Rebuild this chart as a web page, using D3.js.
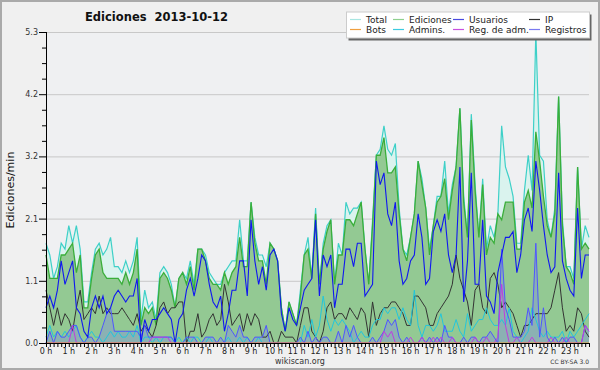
<!DOCTYPE html>
<html><head><meta charset="utf-8">
<script src="https://cdn.jsdelivr.net/npm/d3@7/dist/d3.min.js"></script>
<style>html,body{margin:0;padding:0;background:#f0f0f0;}svg{display:block;}</style>
</head><body><svg id="c" width="600" height="370"></svg>
<script>
// ---- data (edits per minute, 10-minute steps, 0h00 .. 23h50) ----
const hourLabels = d3.range(24).map(h => h + " h");
const yTickValues = [0, 1.06, 2.12, 3.18, 4.24, 5.3];
const yTickLabels = ["0.0", "1.1", "2.1", "3.2", "4.2", "5.3"];
const legendNames = ["Total", "Ediciones", "Usuarios", "IP", "Bots", "Admins.", "Reg. de adm.", "Registros"];

const total = [
1.7,1.5,1.1,1.3,1.7,1.6, 2.0,1.7,2.0,1.6,0.7,0.7, 1.2,1.6,1.7,1.5,1.6,1.8, 1.3,1.3,1.2,1.4,1.2,1.4,
1.8,0.4,0.9,0.6,0.7,0.4, 1.2,1.3,1.2,1.0,0.6,1.1, 1.2,1.1,1.4,1.0,1.6,1.6, 1.5,1.2,1.1,1.0,1.0,1.2,
1.3,1.4,1.4,2.1,1.4,1.4, 2.4,1.8,1.5,1.5,1.3,1.7, 1.6,1.4,0.6,0.2,0.7,0.5, 0.3,0.9,1.5,1.8,1.1,2.3,
1.0,1.7,2.0,2.1,1.0,1.7, 1.5,2.4,2.2,2.3,2.3,2.4, 1.6,1.0,2.1,3.2,3.3,3.7, 3.3,3.2,3.4,2.3,1.6,1.5,
1.8,2.2,3.1,2.8,2.3,1.6, 2.0,2.5,2.5,3.1,2.2,2.7, 3.0,4.0,2.5,1.8,3.9,2.7, 1.8,2.8,1.6,2.0,1.8,2.2,
3.7,3.0,2.8,2.5,1.7,1.7, 2.6,3.2,2.6,5.3,3.2,3.1, 2.1,1.8,2.3,4.2,2.1,1.3, 1.3,1.1,3.0,1.6,2.0,1.8];
const ediciones = [
1.5,1.1,1.1,1.1,1.5,1.5, 1.6,1.7,1.2,1.5,0.6,0.6, 1.1,1.5,1.6,1.2,1.1,1.1, 1.1,1.1,1.0,1.2,1.0,1.2,
1.6,0.3,0.6,0.5,0.6,0.3, 1.1,1.2,1.1,0.9,0.6,1.1, 1.2,1.0,1.3,0.9,1.6,1.6, 1.4,1.1,1.0,1.0,0.9,1.2,
1.0,1.2,1.3,1.8,1.3,1.3, 2.4,1.7,1.4,1.4,1.0,1.7, 1.6,1.4,0.6,0.2,0.7,0.5, 0.3,0.8,1.5,1.6,1.1,2.2,
1.0,1.6,1.9,2.1,1.0,1.5, 1.5,2.1,2.1,2.0,2.2,2.4, 1.6,1.0,2.0,3.2,3.2,3.5, 2.9,2.9,3.0,2.2,1.6,1.4,
1.8,2.2,3.1,2.7,2.3,1.5, 2.0,2.4,2.5,2.8,2.1,2.6, 3.0,4.0,2.4,1.8,3.8,2.6, 1.8,2.7,1.5,1.8,1.7,2.2,
2.1,2.4,2.4,2.4,1.6,1.6, 2.4,2.6,2.3,3.6,3.1,2.5, 2.0,1.8,2.2,4.2,2.0,1.3, 1.2,1.0,3.0,1.6,1.7,1.6];
const usuarios = [
0.6,0.8,0.6,0.9,1.4,1.0, 1.2,1.4,0.6,0.5,0.2,0.1, 0.6,0.8,0.6,0.8,0.5,0.6, 0.8,0.9,0.8,0.7,0.8,0.8,
1.1,0.0,0.4,0.2,0.4,0.4, 0.5,0.6,0.5,0.4,0.0,0.4, 0.5,0.9,1.1,0.8,1.1,1.5, 1.4,1.0,0.7,0.6,0.8,0.2,
0.5,0.9,0.9,1.4,1.4,0.8, 2.1,1.4,1.0,1.3,0.9,1.5, 1.6,1.4,0.5,0.2,0.6,0.4, 0.3,0.6,0.9,1.0,1.1,2.1,
0.8,1.5,1.3,1.5,0.6,1.0, 1.0,1.6,1.6,1.3,1.7,1.7, 0.8,0.9,1.0,3.1,2.7,2.9, 2.2,2.0,2.4,1.4,1.0,1.1,
1.4,1.5,2.2,1.8,1.0,1.1, 1.9,2.1,1.9,2.2,1.5,1.2, 1.5,3.0,0.7,1.4,2.9,1.0, 1.0,2.1,0.8,0.7,0.5,1.2,
1.5,1.8,1.8,1.9,1.2,1.5, 2.1,2.3,1.9,3.1,2.6,2.0, 1.5,1.2,1.3,2.9,1.4,1.1, 0.9,0.8,2.3,1.1,1.5,1.5];
const ip = [
0.9,0.6,0.3,0.6,0.3,0.5, 0.4,0.2,0.6,0.9,0.4,0.5, 0.6,0.5,0.8,0.5,0.6,0.5, 0.5,0.5,0.6,0.5,0.4,0.3,
0.5,0.2,0.3,0.2,0.1,0.3, 0.6,0.7,0.5,0.6,0.6,0.7, 0.7,0.0,0.2,0.2,0.5,0.1, 0.2,0.4,0.5,0.3,0.4,1.0,
0.7,0.3,0.4,0.5,0.2,0.5, 0.3,0.5,0.4,0.1,0.1,0.2, 0.0,0.0,0.2,0.1,0.1,0.1, 0.0,0.3,0.6,0.6,0.2,0.1,
0.0,0.2,0.6,0.7,0.4,0.5, 0.5,0.4,0.6,0.5,0.4,0.6, 0.5,0.1,0.7,0.3,0.5,0.6, 0.6,0.7,0.7,0.6,0.5,0.3,
0.3,0.8,0.8,0.7,0.6,0.3, 0.3,0.5,0.6,0.7,0.8,1.0, 1.5,1.1,0.9,0.7,0.3,0.9, 1.0,0.6,0.5,1.1,1.2,1.0,
0.6,0.7,0.6,0.5,0.3,0.1, 0.3,0.3,0.4,0.5,0.5,0.5, 0.5,0.6,0.9,1.2,0.6,0.2, 0.3,0.2,0.6,0.5,0.2,0.1];
const bots = [
0,0,0,0,0,0, 0,0,0,0,0,0, 0,0,0,0,0,0, 0,0,0,0,0,0,
0,0,0,0,0,0, 0,0,0,0,0,0, 0,0,0,0,0,0, 0,0,0,0,0,0,
0,0,0,0,0,0, 0,0,0,0,0,0, 0,0,0,0,0,0, 0,0,0,0,0,0,
0,0,0,0,0,0, 0,0,0,0,0,0, 0,0,0,0,0,0, 0,0,0,0,0,0,
0,0,0,0,0,0, 0,0,0,0,0,0, 0,0,0,0,0,0, 0,0,0,0,0,0,
0,0,0,0,0,0, 0,0,0,0,0,0, 0,0,0,0,0,0, 0,0,0,0,0,0];
const admins = [
0.1,0.3,0.1,0.2,0.1,0.2, 0.1,0.2,0.3,0.1,0.0,0.1, 0.2,0.1,0.1,0.0,0.1,0.2, 0.1,0.2,0.1,0.1,0.2,0.1,
0.3,0.0,0.1,0.1,0.0,0.1, 0.0,0.1,0.1,0.1,0.0,0.1, 0.0,0.1,0.0,0.1,0.1,0.0, 0.0,0.1,0.0,0.0,0.0,0.0,
0.1,0.0,0.0,0.1,0.0,0.1, 0.0,0.0,0.1,0.0,0.0,0.0, 0.0,0.0,0.0,0.0,0.0,0.0, 0.0,0.0,0.3,0.1,0.4,0.1,
0.3,0.8,0.4,0.2,0.4,0.3, 0.4,0.3,0.2,0.0,0.1,0.2, 0.1,0.1,0.3,0.4,0.4,0.6, 0.5,0.6,0.6,0.4,0.6,0.4,
0.3,0.9,0.3,0.1,0.3,0.3, 0.2,0.3,0.5,0.2,0.2,0.2, 0.4,0.2,0.1,0.5,0.2,0.3, 0.4,0.4,0.6,0.4,0.3,0.3,
0.4,0.3,0.6,0.2,0.1,0.0, 0.1,0.2,0.6,0.4,0.2,0.1, 0.2,0.1,0.1,0.1,0.2,0.0, 0.2,0.1,0.2,0.3,0.4,0.5];
const regAdm = [
0,0,0,0,0,0, 0,0.3,0,0,0,0, 0,0,0,0,0,0, 0,0,0,0,0,0,
0,0,0,0,0.1,0.1, 0.1,0.1,0.1,0,0,0, 0,0,0,0,0,0, 0,0,0,0,0,0,
0,0,0,0,0,0, 0,0,0,0,0,0, 0,0,0,0,0,0, 0,0,0,0,0,0,
0,0,0,0,0,0, 0,0,0,0,0,0, 0,0,0,0,0,0.2, 0.1,0.2,0,0,0,0,
0.1,0,0,0.1,0,0, 0.1,0,0.1,0,0,0.1, 0,0,0,0,0,0.1, 0,0,0.1,0,0,0.1,
1.0,0.3,0,0,0.1,0, 0,0,0.1,0,0,0, 0,0.1,0,0,0,0.1, 0,0,0,0,0.3,0.2];
const registros = [
0.0,0.2,0.0,0.2,0.1,0.1, 0.2,0.3,0.3,0.1,0.0,0.1, 0.1,0.0,0.1,0.3,0.5,0.6, 0.2,0.2,0.2,0.2,0.2,0.2,
0.2,0.1,0.3,0.1,0.1,0.1, 0.1,0.1,0.1,0.1,0.0,0.0, 0.0,0.1,0.1,0.1,0.0,0.0, 0.1,0.1,0.1,0.0,0.1,0.0,
0.3,0.2,0.1,0.3,0.1,0.1, 0.0,0.1,0.1,0.1,0.3,0.0, 0.0,0.0,0.0,0.0,0.0,0.0, 0.0,0.1,0.0,0.2,0.0,0.1,
0.0,0.1,0.1,0.0,0.0,0.2, 0.0,0.3,0.1,0.3,0.1,0.0, 0.0,0.0,0.1,0.0,0.1,0.2, 0.4,0.3,0.4,0.1,0.0,0.1,
0.0,0.0,0.0,0.1,0.0,0.1, 0.0,0.1,0.0,0.3,0.1,0.1, 0.0,0.0,0.1,0.0,0.1,0.1, 0.0,0.1,0.1,0.2,0.1,0.0,
1.6,0.6,0.4,0.1,0.1,0.1, 0.2,0.6,0.3,1.7,0.1,0.6, 0.1,0.0,0.1,0.0,0.1,0.0, 0.1,0.1,0.0,0.0,0.3,0.2];

// ---- drawing ----
const W = 600, H = 370;
const L = 46, R = 589, T = 32, B = 343;
const svg = d3.select("#c");
const FONT = "DejaVu Sans, sans-serif";

svg.append("rect").attr("x",1).attr("y",1).attr("width",W-2).attr("height",H-2)
  .attr("fill","#f0f0f0").attr("stroke","#aaaaaa").attr("stroke-width",2);
svg.append("rect").attr("x",L).attr("y",T).attr("width",R-L).attr("height",B-T).attr("fill","#eff0f2");

const x = d3.scaleLinear().domain([0, total.length - 1]).range([L, R]);
const y = d3.scaleLinear().domain([0, 5.3]).range([B, T]);

// grid
svg.append("g").selectAll("line").data(yTickValues.slice(1)).join("line")
  .attr("x1",L).attr("x2",R).attr("y1",d=>y(d)+0.5).attr("y2",d=>y(d)+0.5)
  .attr("stroke","#c8c8c8").attr("stroke-width",1);

const areaOf = arr => d3.area().x((d,i)=>x(i)).y0(y(0)).y1(d=>y(d))(arr);
const lineOf = arr => d3.line().x((d,i)=>x(i)).y(d=>y(d))(arr);

svg.append("path").attr("d",areaOf(total)).attr("fill","#daf3ee");
svg.append("path").attr("d",lineOf(total)).attr("fill","none").attr("stroke","#3ed0c8").attr("stroke-width",1.2);
svg.append("path").attr("d",areaOf(ediciones)).attr("fill","#93c993");
svg.append("path").attr("d",lineOf(ediciones)).attr("fill","none").attr("stroke","#3aae3a").attr("stroke-width",1.3);
svg.append("path").attr("d",areaOf(registros)).attr("fill","#7a7aff").attr("fill-opacity",0.3);
svg.append("path").attr("d",lineOf(ip)).attr("fill","none").attr("stroke","#333333").attr("stroke-width",1);
svg.append("path").attr("d",lineOf(admins)).attr("fill","none").attr("stroke","#22c6dc").attr("stroke-width",1);
svg.append("path").attr("d",lineOf(registros)).attr("fill","none").attr("stroke","#4f55ff").attr("stroke-width",1);
svg.append("path").attr("d",lineOf(regAdm)).attr("fill","none").attr("stroke","#c03ce0").attr("stroke-width",1);
svg.append("path").attr("d",lineOf(usuarios)).attr("fill","none").attr("stroke","#1018f0").attr("stroke-width",1.1);
svg.append("path").attr("d",lineOf(bots)).attr("fill","none").attr("stroke","#f0a030").attr("stroke-width",1);

// y axis
const yAxis = d3.axisLeft(y).tickValues(yTickValues).tickFormat((d,i)=>yTickLabels[i]).tickSize(7).tickPadding(1);
const gy = svg.append("g").attr("transform",`translate(${L},0)`).call(yAxis);
gy.select(".domain").remove();
gy.selectAll("text").attr("font-family",FONT).attr("font-size",8).attr("fill","#333");
gy.selectAll("line").attr("stroke","#000");
const minorY = d3.range(0, 21).map(k => k * 5.3 / 20).filter((d,k)=>k % 4 !== 0);
svg.append("g").selectAll("line").data(minorY).join("line")
  .attr("x1",L-4).attr("x2",L).attr("y1",d=>y(d)+0.5).attr("y2",d=>y(d)+0.5).attr("stroke","#000");
svg.append("line").attr("x1",L+0.5).attr("x2",L+0.5).attr("y1",T).attr("y2",B).attr("stroke","#000");

// x axis
const xAxis = d3.axisBottom(x).tickValues(d3.range(0, total.length)).tickFormat("").tickSize(4);
const gx = svg.append("g").attr("transform",`translate(0,${B})`).call(xAxis);
gx.select(".domain").remove();
gx.selectAll("line").attr("stroke","#000");
svg.append("line").attr("x1",L).attr("x2",R+1).attr("y1",B+0.5).attr("y2",B+0.5).attr("stroke","#000");
svg.append("g").selectAll("text").data(hourLabels).join("text")
  .attr("x",(d,i)=>x(i*6)).attr("y",353.5).attr("text-anchor","middle")
  .attr("font-family",FONT).attr("font-size",8).attr("fill","#222").text(d=>d);

// titles
svg.append("text").attr("x",85).attr("y",21).attr("font-family",FONT).attr("font-weight","bold")
  .attr("font-size",11.5).attr("fill","#111").style("white-space","pre").text("Ediciones  2013-10-12");
svg.append("text").attr("transform","translate(14,190) rotate(-90)").attr("text-anchor","middle")
  .attr("font-family",FONT).attr("font-size",11).attr("fill","#111").text("Ediciones/min");
svg.append("text").attr("x",300).attr("y",364).attr("text-anchor","middle")
  .attr("font-family",FONT).attr("font-size",8).attr("fill","#333").text("wikiscan.org");
svg.append("text").attr("x",589).attr("y",364).attr("text-anchor","end")
  .attr("font-family",FONT).attr("font-size",6).attr("fill","#333").text("CC BY-SA 3.0");

// legend
const lg = svg.append("g");
lg.append("rect").attr("x",348.5).attr("y",14.5).attr("width",243).attr("height",26).attr("fill","#666");
lg.append("rect").attr("x",346.5).attr("y",12).attr("width",243).attr("height",26)
  .attr("fill","#ffffff").attr("stroke","#cccccc").attr("stroke-width",1);
const legendColors = ["#a8e6e2","#8fd08f","#4a4ae0","#333333","#f0a040","#3ccbe0","#c850e0","#7a7af0"];
const colLineX = [350, 393, 453, 529];
const rowY = [19.5, 29.5];
legendNames.forEach((name, k) => {
  const c = k % 4, r = Math.floor(k / 4);
  lg.append("line").attr("x1",colLineX[c]).attr("x2",colLineX[c]+11).attr("y1",rowY[r]).attr("y2",rowY[r])
    .attr("stroke",legendColors[k]).attr("stroke-width",1.2);
  lg.append("text").attr("x",colLineX[c]+16).attr("y",rowY[r]+3.2).attr("font-family",FONT)
    .attr("font-size",9).attr("fill","#222").text(name);
});
</script></body></html>
